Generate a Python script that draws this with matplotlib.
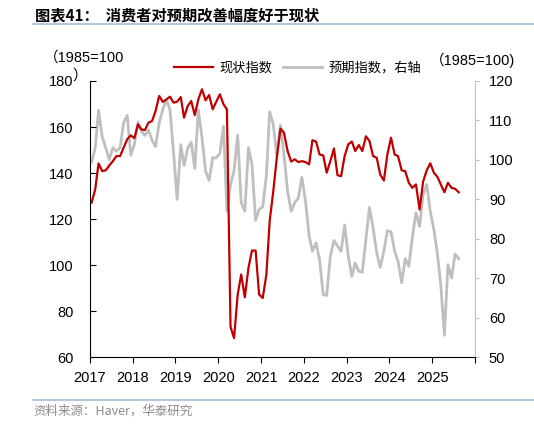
import matplotlib
matplotlib.use('Agg')
import matplotlib.pyplot as plt
import matplotlib.dates as mdates
import pandas as pd
import datetime as dt

# monthly, Jan 2017 - Aug 2025 (Conference Board, 1985=100)
months = pd.date_range('2017-01-01', '2025-08-01', freq='MS') + pd.Timedelta(days=14)

present = [127.2, 133, 144.2, 140.9, 141.2, 143.3, 145.2, 147.4, 147.4, 151, 154.7, 156.4,
           155.2, 161.2, 159, 158.7, 161.9, 162.6, 167, 173.5, 170.9, 172, 173.2, 170.6,
           171, 173, 164.1, 169.1, 171.3, 165.2, 172, 176.4, 171.6, 173.9, 167.7, 171,
           174.2, 169.9, 167.7, 73.2, 68.4, 87.3, 96, 86.1, 98.9, 106.4, 106.4, 87.3,
           85.8, 96, 119.1, 132.2, 146.7, 159.3, 157.6, 149.6, 145, 146, 144.8, 145.2,
           144.8, 143.8, 154.3, 153.7, 148.1, 147.7, 140.2, 145.2, 150.7, 139.1, 138.7, 147.4,
           152.5, 153.7, 149.6, 152.2, 149.6, 156, 153.9, 147.4, 146.7, 139.4, 136.8, 148.1,
           155.4, 148.1, 147.4, 141.2, 140.9, 135.8, 133.6, 135.1, 124.2, 136.3, 141.2, 144.3,
           140.2, 138.3, 135.1, 131.7, 135.8, 133.6, 133.2, 131.7]

expect = [99.5, 103, 112.6, 105.9, 103.1, 100.1, 103.1, 102.2, 103.1, 109.4, 111.3, 101.2,
          104, 109.6, 107.3, 106.2, 107.6, 105, 103.4, 109.4, 112.8, 115.2, 112.8, 102,
          90, 103.9, 98.6, 103, 104.5, 97.9, 112.7, 105.7, 97.2, 94.8, 100.6, 100.5,
          101.7, 108.5, 87, 93.8, 97.2, 106.3, 89.2, 87, 103.1, 98.9, 84.7, 87.5,
          88.1, 96, 112.2, 109, 101, 108.8, 101.4, 92.1, 87, 89.2, 90.4, 95.6,
          89.6, 80.7, 76.9, 79, 74.8, 65.9, 65.7, 75.6, 79.6, 78.2, 76.9, 83.5,
          75.6, 70.5, 73.9, 71.8, 71.6, 80, 88, 82.8, 76.5, 72.8, 76.9, 82.1,
          81.8, 76.9, 74.3, 68.9, 75, 73.1, 80.3, 86.6, 83.2, 91.3, 93.8, 87,
          82.4, 76, 68.4, 55.6, 73.5, 70.1, 76.2, 75]

years = list(range(2017, 2027))
year_labels = [str(y) for y in years[:-1]] + ['']

cjk = ['Noto Sans CJK SC', 'DejaVu Sans']
num = ['Liberation Sans', 'Noto Sans CJK SC']

fig = plt.figure(figsize=(5.34, 4.24), dpi=100)
ax = fig.add_axes([0.1685, 0.157, 0.721, 0.652])
ax2 = ax.twinx()

ax2.plot(months, expect, color='#bfbfbf', lw=2.0, label='预期指数，右轴')
ax.plot(months, present, color='#c00000', lw=1.6, label='现状指数')
ax.set_zorder(ax2.get_zorder() + 1)
ax.patch.set_visible(False)

ax.set_ylim(60, 180)
ax.set_yticks(range(60, 181, 20))
ax2.set_ylim(50, 120)
ax2.set_yticks(range(50, 121, 10))
ax.set_xlim(dt.date(2017, 1, 1), dt.date(2026, 1, 1))
ax.set_xticks([dt.date(y, 1, 1) for y in years])
ax.set_xticklabels(year_labels)

for a in (ax, ax2):
    a.spines['top'].set_visible(False)
ax.spines['right'].set_visible(False)
ax2.spines['left'].set_visible(False)
ax2.spines['bottom'].set_visible(False)
ax2.spines['right'].set_color('#bfbfbf')
ax.spines['left'].set_color('black')
ax.spines['bottom'].set_color('black')

ax.tick_params(axis='y', direction='in', length=4, pad=12, labelsize=10.5)
ax.tick_params(axis='x', direction='out', length=4, pad=6, labelsize=10.5)
ax2.tick_params(axis='y', direction='out', length=3, pad=7, labelsize=10.5, color='#bfbfbf')
for lab in ax.get_xticklabels() + ax.get_yticklabels() + ax2.get_yticklabels():
    lab.set_family(num)

# axis unit labels
fig.text(84 / 534, 1 - 58 / 424, '（1985=100', ha='center', va='center', fontsize=10.5, family=num)
fig.text(80 / 534, 1 - 76 / 424, '）', ha='center', va='center', fontsize=10.5, family=num)
fig.text(472 / 534, 1 - 60 / 424, '（1985=100)', ha='center', va='center', fontsize=10.5, family=num)

h1, l1 = ax.get_legend_handles_labels()
h2, l2 = ax2.get_legend_handles_labels()
fig.legend(h1 + h2, l1 + l2, loc='center', bbox_to_anchor=(298 / 534, 1 - 68 / 424), ncol=2,
           frameon=False, prop={'family': cjk, 'size': 9.5}, handlelength=2.9,
           handletextpad=0.55, columnspacing=0.8)

# title, rules and source
fig.text(35 / 534, 1 - 15 / 424, '图表41：  消费者对预期改善幅度好于现状', ha='left', va='center',
         fontsize=11, fontweight='bold', family=cjk)
fig.add_artist(plt.Line2D([33 / 534, 1], [1 - 24 / 424, 1 - 24 / 424], color='#a6bcd4', lw=1.2))
fig.add_artist(plt.Line2D([33 / 534, 1], [1 - 400 / 424, 1 - 400 / 424], color='#a6bcd4', lw=1.2))
fig.text(33 / 534, 1 - 411 / 424, '资料来源：Haver，华泰研究', ha='left', va='center',
         fontsize=9, color='#8c8c8c', family=cjk)

fig.savefig('out.png', dpi=100)
